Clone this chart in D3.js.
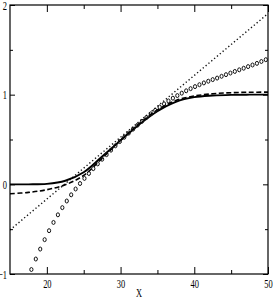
<!DOCTYPE html>
<html lang="en">
<head>
  <meta charset="UTF-8">
  <title>Sigmoid approximations</title>
  <style>
    body { margin: 0; background: #fff; }
  </style>
  <script src="https://cdn.jsdelivr.net/npm/d3@7"></script>
</head>
<body>
<script>
  // solid and dashed curves
  var curveX = [15, 17.5, 20, 22.5, 25, 27.5, 30, 32.5, 35, 37.5, 40, 42.5, 45, 47.5, 50];
  var solidY = [0, 0, 0.005, 0.04, 0.135, 0.31, 0.49, 0.665, 0.815, 0.92, 0.972, 0.99, 0.998, 1.0, 1.0];
  var dashedY = [-0.105, -0.09, -0.06, -0.005, 0.1, 0.29, 0.49, 0.675, 0.83, 0.935, 0.985, 1.01, 1.022, 1.027, 1.028];

  // straight dotted line
  var dotX = [15, 50];
  var dotY = [-0.509, 1.904];

  // open circle markers
  var circX = [17.9, 18.5, 19.1, 19.7, 20.3, 20.9, 21.5, 22.1, 22.7, 23.3, 23.9, 24.5, 25.1, 25.7,
    26.3, 26.9, 27.5, 28.1, 28.7, 29.3, 29.9, 30.5, 31.1, 31.7, 32.3, 32.9, 33.5, 34.1, 34.7, 35.3,
    35.9, 36.5, 37.1, 37.7, 38.3, 38.9, 39.5, 40.1, 40.7, 41.3, 41.9, 42.5, 43.1, 43.7, 44.3, 44.9,
    45.5, 46.1, 46.7, 47.3, 47.9, 48.5, 49.1, 49.7];
  var circY = [-0.95, -0.833, -0.722, -0.617, -0.517, -0.425, -0.34, -0.26, -0.186, -0.117, -0.052,
    0.009, 0.066, 0.121, 0.175, 0.228, 0.28, 0.331, 0.381, 0.43, 0.478, 0.525, 0.571, 0.616, 0.66,
    0.703, 0.745, 0.786, 0.825, 0.862, 0.897, 0.93, 0.961, 0.99, 1.017, 1.043, 1.067, 1.09, 1.111,
    1.131, 1.15, 1.168, 1.185, 1.205, 1.223, 1.241, 1.259, 1.277, 1.295, 1.313, 1.331, 1.349, 1.37, 1.39];

  var xMajor = [20, 30, 40, 50], xMinor = [25, 35, 45];
  var yMajor = [-1, 0, 1, 2], yMinor = [-0.5, 0.5, 1.5];

  var W = 273, H = 300;
  var padL = 10, padR = 268, padT = 5, padB = 274;

  var svg = d3.select("body").append("svg")
    .attr("width", W)
    .attr("height", H);

  var x = d3.scaleLinear().domain([15, 50]).range([padL, padR]);
  var y = d3.scaleLinear().domain([-1, 2]).range([padB, padT]);

  svg.append("defs").append("clipPath").attr("id", "clip")
    .append("rect")
    .attr("x", padL).attr("y", padT)
    .attr("width", padR - padL).attr("height", padB - padT);

  var plot = svg.append("g").attr("clip-path", "url(#clip)");

  var line = d3.line()
    .x(function(d) { return x(d[0]); })
    .y(function(d) { return y(d[1]); });

  plot.append("path")
    .attr("d", line(d3.zip(dotX, dotY)))
    .attr("fill", "none")
    .attr("stroke", "#111")
    .attr("stroke-width", 1.4)
    .attr("stroke-dasharray", "1.3 2.4");

  plot.append("path")
    .attr("d", line.curve(d3.curveCatmullRom)(d3.zip(curveX, dashedY)))
    .attr("fill", "none")
    .attr("stroke", "#000")
    .attr("stroke-width", 1.6)
    .attr("stroke-dasharray", "5 2.5");

  plot.append("path")
    .attr("d", line.curve(d3.curveCatmullRom)(d3.zip(curveX, solidY)))
    .attr("fill", "none")
    .attr("stroke", "#000")
    .attr("stroke-width", 1.9);

  plot.selectAll("ellipse").data(d3.zip(circX, circY))
    .enter().append("ellipse")
    .attr("cx", function(d) { return x(d[0]); })
    .attr("cy", function(d) { return y(d[1]); })
    .attr("rx", 1.6)
    .attr("ry", 2)
    .attr("fill", "none")
    .attr("stroke", "#111")
    .attr("stroke-width", 1);

  // axes, ticks pointing inwards on all four sides
  function squeeze(g) {
    g.select(".domain").remove();
    g.selectAll("line").attr("stroke", "#000");
    g.selectAll("text")
      .attr("font-family", "'Liberation Serif', serif")
      .attr("font-size", 13)
      .attr("fill", "#000")
      .attr("transform", function() {
        var tx = +this.getAttribute("x") || 0, ty = +this.getAttribute("y") || 0;
        return "translate(" + tx + "," + ty + ") scale(0.65,1)";
      })
      .attr("x", 0).attr("y", 0);
  }

  svg.append("g").attr("transform", "translate(0," + padB + ")")
    .call(d3.axisBottom(x).tickValues(xMajor).tickSize(-7).tickPadding(5).tickFormat(d3.format("d")))
    .call(squeeze);
  svg.append("g").attr("transform", "translate(0," + padB + ")")
    .call(d3.axisBottom(x).tickValues(xMinor).tickSize(-4).tickFormat(""))
    .call(squeeze);
  svg.append("g").attr("transform", "translate(0," + padT + ")")
    .call(d3.axisTop(x).tickValues(xMajor).tickSize(-7).tickFormat(""))
    .call(squeeze);
  svg.append("g").attr("transform", "translate(0," + padT + ")")
    .call(d3.axisTop(x).tickValues(xMinor).tickSize(-4).tickFormat(""))
    .call(squeeze);

  svg.append("g").attr("transform", "translate(" + padL + ",0)")
    .call(d3.axisLeft(y).tickValues(yMajor).tickSize(-5).tickPadding(3).tickFormat(d3.format("d")))
    .call(squeeze);
  svg.append("g").attr("transform", "translate(" + padL + ",0)")
    .call(d3.axisLeft(y).tickValues(yMinor).tickSize(-3).tickFormat(""))
    .call(squeeze);
  svg.append("g").attr("transform", "translate(" + padR + ",0)")
    .call(d3.axisRight(y).tickValues(yMajor).tickSize(-5).tickFormat(""))
    .call(squeeze);
  svg.append("g").attr("transform", "translate(" + padR + ",0)")
    .call(d3.axisRight(y).tickValues(yMinor).tickSize(-3).tickFormat(""))
    .call(squeeze);

  svg.append("rect")
    .attr("x", padL).attr("y", padT)
    .attr("width", padR - padL).attr("height", padB - padT)
    .attr("fill", "none")
    .attr("stroke", "#000")
    .attr("stroke-width", 1.2);

  svg.append("text")
    .attr("transform", "translate(" + ((padL + padR) / 2) + ",297) scale(0.7,1)")
    .attr("text-anchor", "middle")
    .attr("font-family", "'Liberation Serif', serif")
    .attr("font-size", 12)
    .text("X");
</script>
</body>
</html>
